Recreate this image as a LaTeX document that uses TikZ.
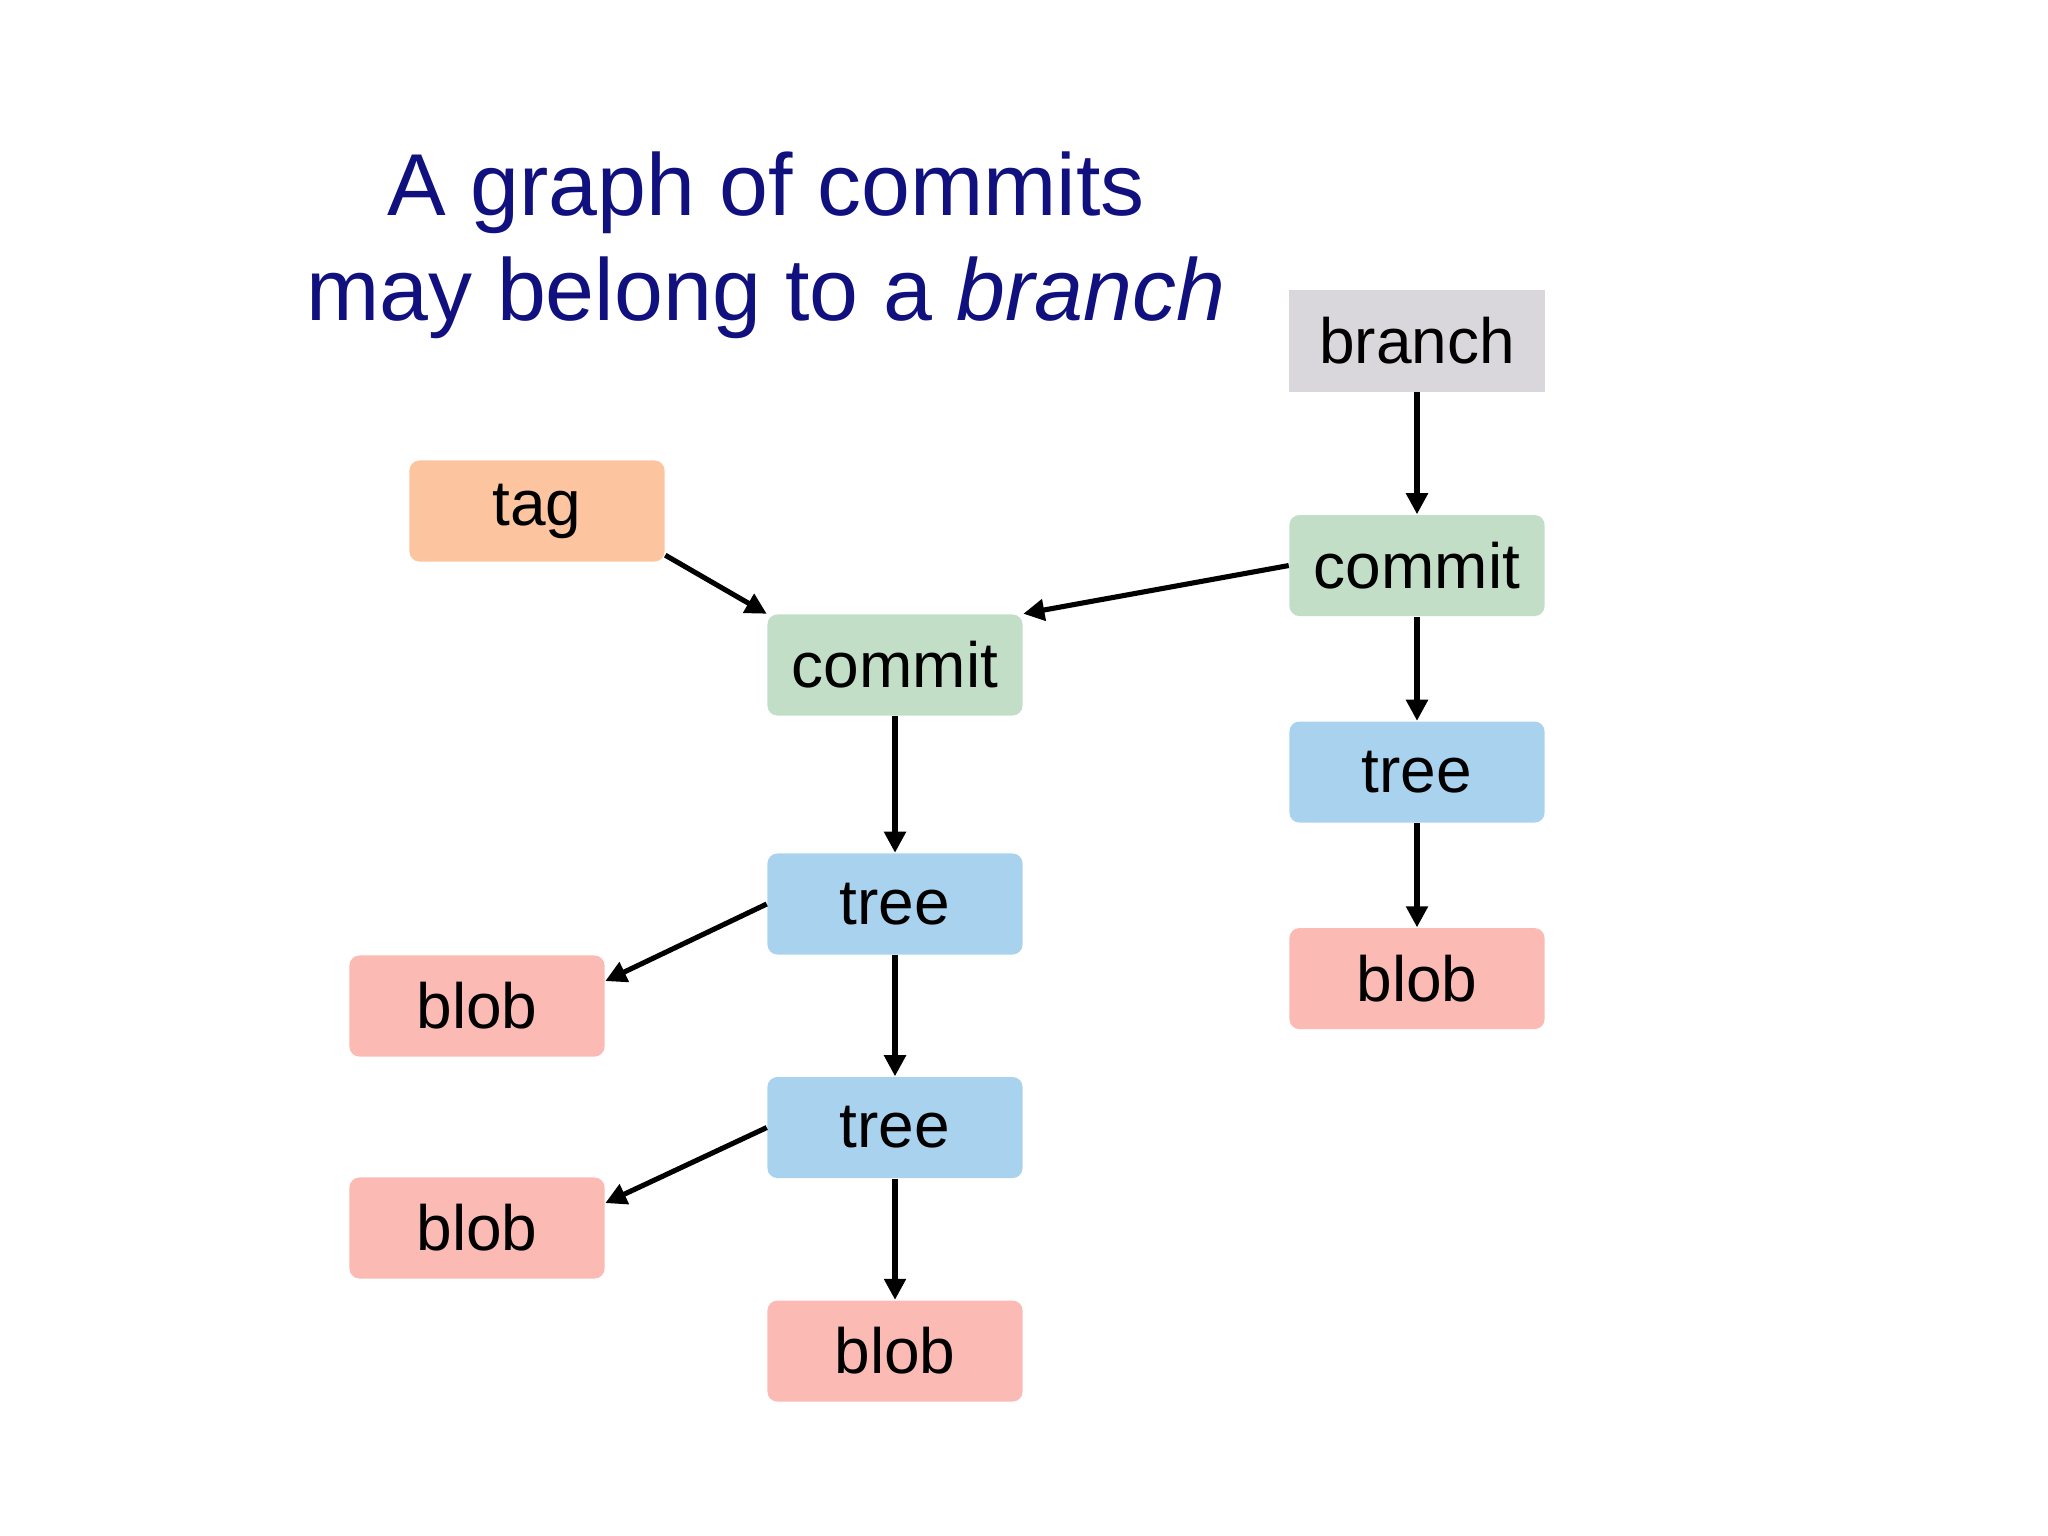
\documentclass[tikz,border=0pt]{standalone}
\usepackage{fontspec}
\setmainfont{Liberation Sans}
\usepackage{xcolor}
\usetikzlibrary{positioning,arrows.meta}

\definecolor{titleblue}{HTML}{10107F}
\definecolor{branchgray}{HTML}{D9D7DC}
\definecolor{commitgreen}{HTML}{C3DEC6}
\definecolor{treeblue}{HTML}{A9D2EE}
\definecolor{blobpink}{HTML}{FBBAB4}
\definecolor{tagorange}{HTML}{FCC5A0}

\begin{document}
\begin{tikzpicture}[
    x=0.01cm, y=-0.01cm,
    node distance=1.04cm,
    obj/.style={rectangle, minimum width=2.55cm, minimum height=1.01cm, inner sep=0pt, rounded corners=0.1cm, font=\fontsize{18.2}{22}\selectfont},
    title/.style={text=titleblue, font=\fontsize{25}{30}\selectfont, inner sep=0pt},
    arrow/.style={-{Triangle[length=6pt, width=6pt]}, line width=1.45pt}
]
    \useasboundingbox (0,0) rectangle (2048,1536);

    \node[title, anchor=base] (title1) at (766,215) {A graph of commits};
    \node[title, anchor=base] (title2) at (766,320) {may belong to a \textit{branch}};

    \node[obj, fill=branchgray, rounded corners=0pt] (branch) at (1417,341) {branch};
    \node[obj, fill=commitgreen, below=1.22cm of branch] (commitR) {commit};
    \node[obj, fill=treeblue, below=of commitR] (treeR) {tree};
    \node[obj, fill=blobpink, below=of treeR] (blobR) {blob};

    \node[obj, fill=tagorange] (tag) at (537,511) {tag};
    \node[obj, fill=commitgreen] (commitL) at (895,665) {commit};
    \node[obj, fill=treeblue] (treeA) at (895,904) {tree};
    \node[obj, fill=treeblue, below=1.21cm of treeA] (treeB) {tree};
    \node[obj, fill=blobpink, below=1.21cm of treeB] (blobC) {blob};
    \node[obj, fill=blobpink] (blobA) at (477,1006) {blob};
    \node[obj, fill=blobpink] (blobB) at (477,1228) {blob};

    \draw[arrow] (branch) -- (commitR);
    \draw[arrow] (commitR) -- (treeR);
    \draw[arrow] (treeR) -- (blobR);
    \draw[arrow] (commitR.west) -- (commitL.north east);
    \draw[arrow] (tag.-19) -- (commitL.north west);
    \draw[arrow] (commitL) -- (treeA);
    \draw[arrow] (treeA) -- (treeB);
    \draw[arrow] (treeB) -- (blobC);
    \draw[arrow] (treeA.west) -- (blobA.11);
    \draw[arrow] (treeB.west) -- (blobB.11);
\end{tikzpicture}
\end{document}
